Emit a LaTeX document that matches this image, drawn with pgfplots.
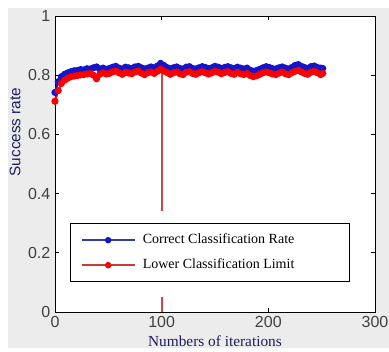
\documentclass[border=0pt]{standalone}
\usepackage{fontspec}
\setmainfont{Liberation Serif}
\newfontfamily\arial{Liberation Sans}
\usepackage{pgfplots}
\pgfplotsset{compat=1.18}
\definecolor{bgray}{RGB}{236,236,236}
\definecolor{dblue}{RGB}{20,20,200}
\definecolor{dred}{RGB}{250,0,0}
\definecolor{cVline}{RGB}{205,70,70}
\definecolor{navy}{RGB}{30,30,90}
\definecolor{lblue}{RGB}{50,60,170}
\definecolor{lred}{RGB}{200,60,60}
\begin{document}
\begin{tikzpicture}
\useasboundingbox (-41.25pt,-29.25pt) rectangle (250.5pt,234pt);
\fill[white] (-41.25pt,-29.25pt) rectangle (250.5pt,234pt);
\fill[bgray] (-35.25pt,-27pt) rectangle (250.5pt,228pt);
\begin{axis}[
  at={(0,0)}, anchor=south west,
  scale only axis, width=240pt, height=222pt,
  xmin=0, xmax=300, ymin=0, ymax=1,
  xtick={0,100,200,300}, ytick={0,0.2,0.4,0.6,0.8,1},
  tick align=inside, major tick length=3pt,
  axis background/.style={fill=white},
  axis line style={line width=0.6pt},
  tick style={black, line width=0.6pt},
  /pgf/number format/assume math mode=true,
  tick label style={font=\arial\fontsize{12}{14}\selectfont, text=black!75},
  xlabel={Numbers of iterations},
  xlabel style={at={(axis description cs:0.5,-0.117)}, anchor=base, font=\fontsize{11.5}{13}\selectfont, text=navy},
  ylabel={Success rate},
  ylabel style={at={(axis description cs:-0.125,0.608)}, anchor=center, font=\arial\fontsize{11.5}{13}\selectfont, text=navy},
  legend style={at={(rel axis cs:0.047,0.3007)}, anchor=north west, draw=black, line width=0.8pt, fill=white,
    inner xsep=7.5pt, inner ysep=8pt, row sep=9.75pt, column sep=5.25pt,
    font=\fontsize{10.5}{12}\selectfont,
    nodes={inner sep=0pt, text height=7pt, text depth=2pt}, cells={anchor=west}},
]
\addplot[draw=cVline, line width=1.3pt, mark=none, forget plot] table {
x y
100 0.830
100 0.342
};
\addplot[draw=cVline, line width=1.3pt, mark=none, forget plot] table {
x y
100 0.052
100 0
};
\addplot[dblue, line width=1.5pt, mark=*, mark size=1.9pt, forget plot] coordinates {
(0,0.742) (3,0.778) (6,0.795) (9,0.803) (12,0.808) (15,0.812) (18,0.815) (21,0.816) (24,0.819) (27,0.818)
(30,0.822) (33,0.821) (36,0.825) (39,0.828) (42,0.821) (45,0.824) (48,0.820) (51,0.823) (54,0.827) (57,0.830)
(60,0.824) (63,0.821) (66,0.827) (69,0.825) (72,0.822) (75,0.828) (78,0.830) (81,0.825) (84,0.821) (87,0.824)
(90,0.828) (93,0.825) (96,0.831) (99,0.840) (102,0.833) (105,0.826) (108,0.822) (111,0.825) (114,0.828) (117,0.823)
(120,0.821) (123,0.827) (126,0.829) (129,0.823) (132,0.821) (135,0.825) (138,0.829) (141,0.826) (144,0.822) (147,0.825)
(150,0.830) (153,0.827) (156,0.823) (159,0.826) (162,0.829) (165,0.825) (168,0.822) (171,0.827) (174,0.824) (177,0.821)
(180,0.824) (183,0.817) (186,0.813) (189,0.816) (192,0.820) (195,0.825) (198,0.829) (201,0.826) (204,0.822) (207,0.821)
(210,0.825) (213,0.828) (216,0.824) (219,0.821) (222,0.826) (225,0.833) (228,0.836) (231,0.830) (234,0.826) (237,0.823)
(240,0.829) (243,0.831) (246,0.826) (249,0.824) (251,0.823)
};
\addplot[dred, line width=1.5pt, mark=*, mark size=1.9pt, forget plot] coordinates {
(0,0.712) (3,0.748) (6,0.772) (9,0.783) (12,0.790) (15,0.795) (18,0.797) (21,0.799) (24,0.801) (27,0.802)
(30,0.804) (33,0.806) (36,0.800) (39,0.788) (42,0.803) (45,0.808) (48,0.804) (51,0.806) (54,0.811) (57,0.814)
(60,0.808) (63,0.803) (66,0.810) (69,0.807) (72,0.805) (75,0.811) (78,0.814) (81,0.807) (84,0.802) (87,0.808)
(90,0.811) (93,0.806) (96,0.813) (99,0.820) (102,0.814) (105,0.809) (108,0.803) (111,0.808) (114,0.811) (117,0.805)
(120,0.802) (123,0.810) (126,0.812) (129,0.806) (132,0.803) (135,0.808) (138,0.812) (141,0.808) (144,0.804) (147,0.808)
(150,0.813) (153,0.810) (156,0.805) (159,0.809) (162,0.812) (165,0.806) (168,0.803) (171,0.810) (174,0.805) (177,0.802)
(180,0.806) (183,0.799) (186,0.795) (189,0.798) (192,0.803) (195,0.808) (198,0.811) (201,0.808) (204,0.804) (207,0.802)
(210,0.807) (213,0.811) (216,0.805) (219,0.802) (222,0.808) (225,0.813) (228,0.816) (231,0.811) (234,0.806) (237,0.803)
(240,0.810) (243,0.813) (246,0.808) (249,0.802) (251,0.806)
};
\addlegendimage{legend image code/.code={\draw[lblue,line width=1.4pt] (0pt,0pt)--(40pt,0pt); \fill[dblue] (20pt,0pt) circle (2pt);}}
\addlegendentry{\makebox[147.75pt][l]{Correct Classification Rate}}
\addlegendimage{legend image code/.code={\draw[lred,line width=1.4pt] (0pt,0pt)--(40pt,0pt); \fill[dred] (20pt,0pt) circle (2pt);}}
\addlegendentry{\makebox[147.75pt][l]{Lower Classification Limit}}
\end{axis}
\end{tikzpicture}
\end{document}
